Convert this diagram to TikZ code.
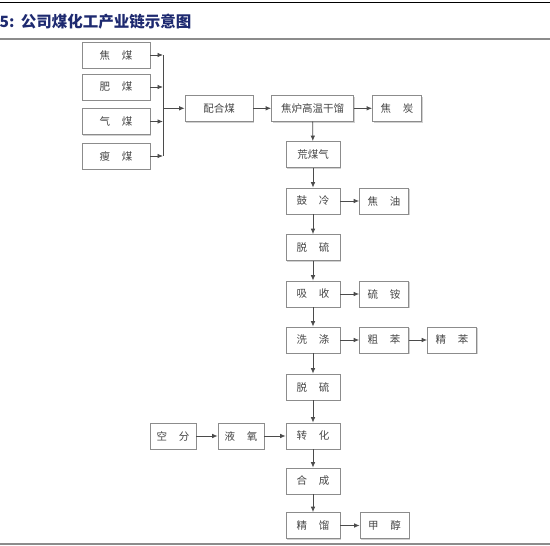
\documentclass[tikz,border=0pt]{standalone}
\usepackage{fontspec}
\newfontfamily\cjk{Noto Sans CJK SC}
\usetikzlibrary{arrows.meta,shadows}
\definecolor{titleblue}{RGB}{30,42,112}
\definecolor{boxline}{RGB}{140,140,140}
\definecolor{boxtext}{RGB}{70,70,70}
\definecolor{arrowgray}{RGB}{75,75,75}
\newcommand{\gap}{\hspace{1.1em}}

\begin{document}
\begin{tikzpicture}[x=1pt,y=-1pt,>=Latex,
  procbox/.style={draw=boxline,fill=white,line width=0.8pt,minimum height=26,
    inner sep=0pt,font=\cjk\fontsize{10.5}{12}\selectfont,text=boxtext,
    drop shadow={shadow xshift=1.2pt,shadow yshift=-1.2pt,fill=black!18,opacity=1}},
  arr/.style={->,draw=arrowgray,line width=0.8pt,>={Latex[length=5.5pt,width=4.6pt]}},
  rule/.style={draw=black!45,line width=2pt}]
  \useasboundingbox (0,0) rectangle (550,546);
  % header and rules
  \draw[black,line width=1pt] (0,2.5) -- (550,2.5);
  \node[anchor=west,inner sep=0pt,text=titleblue,font=\cjk\bfseries\fontsize{15.5}{17}\selectfont] (title) at (-0.5,22) {5:\hspace{0.4em}公司煤化工产业链示意图};
  \draw[rule] (0,39) -- (550,39);
  \draw[rule] (0,543.5) -- (550,543.5);
  % coal inputs
  \node[procbox,minimum width=68] (jiaomei) at (116,55) {焦\gap 煤};
  \node[procbox,minimum width=68] (feimei) at (116,87) {肥\gap 煤};
  \node[procbox,minimum width=68] (qimei) at (116,121.5) {气\gap 煤};
  \node[procbox,minimum width=68] (shoumei) at (116,156) {瘦\gap 煤};
  \coordinate (bus) at (163,108.3);
  \node[procbox,minimum width=68] (peihe) at (219,108.3) {配合煤};
  % main column
  \node[procbox,minimum width=82] (jiaolu) at (312.5,108.3) {焦炉高温干馏};
  \node[procbox,minimum width=49] (jiaotan) at (397,108.3) {焦\gap 炭};
  \node[procbox,minimum width=54] (huangmeiqi) at (313,154.5) {荒煤气};
  \node[procbox,minimum width=54] (gulen) at (313,201) {鼓\gap 冷};
  \node[procbox,minimum width=49] (jiaoyou) at (384,201) {焦\gap 油};
  \node[procbox,minimum width=54] (tuoliua) at (313,247.5) {脱\gap 硫};
  \node[procbox,minimum width=54] (xishou) at (313,294) {吸\gap 收};
  \node[procbox,minimum width=49] (liuan) at (384,294) {硫\gap 铵};
  \node[procbox,minimum width=54] (xidi) at (313,340) {洗\gap 涤};
  \node[procbox,minimum width=49] (cuben) at (384,340) {粗\gap 苯};
  \node[procbox,minimum width=49] (jingben) at (452,340) {精\gap 苯};
  \node[procbox,minimum width=54] (tuoliub) at (313,387) {脱\gap 硫};
  \node[procbox,minimum width=54] (zhuanhua) at (313,436) {转\gap 化};
  \node[procbox,minimum width=46] (kongfen) at (173,436) {空\gap 分};
  \node[procbox,minimum width=46] (yeyang) at (241,436) {液\gap 氧};
  \node[procbox,minimum width=54] (hecheng) at (313,481) {合\gap 成};
  \node[procbox,minimum width=54] (jingliu) at (313,525.5) {精\gap 馏};
  \node[procbox,minimum width=49] (jiachun) at (384.5,525.5) {甲\gap 醇};
  % connectors
  \foreach \src in {jiaomei,feimei,qimei,shoumei}
    \draw[arr] (\src) -- (\src -| bus);
  \draw[draw=arrowgray,line width=0.8pt] (bus |- jiaomei) -- (bus |- shoumei);
  \draw[arr] (bus) -- (peihe);
  \draw[arr] (peihe) -- (jiaolu);
  \draw[arr] (jiaolu) -- (jiaotan);
  \draw[arr] (jiaolu) -- (huangmeiqi);
  \draw[arr] (huangmeiqi) -- (gulen);
  \draw[arr] (gulen) -- (jiaoyou);
  \draw[arr] (gulen) -- (tuoliua);
  \draw[arr] (tuoliua) -- (xishou);
  \draw[arr] (xishou) -- (liuan);
  \draw[arr] (xishou) -- (xidi);
  \draw[arr] (xidi) -- (cuben);
  \draw[arr] (cuben) -- (jingben);
  \draw[arr] (xidi) -- (tuoliub);
  \draw[arr] (tuoliub) -- (zhuanhua);
  \draw[arr] (kongfen) -- (yeyang);
  \draw[arr] (yeyang) -- (zhuanhua);
  \draw[arr] (zhuanhua) -- (hecheng);
  \draw[arr] (hecheng) -- (jingliu);
  \draw[arr] (jingliu) -- (jiachun);
\end{tikzpicture}
\end{document}
